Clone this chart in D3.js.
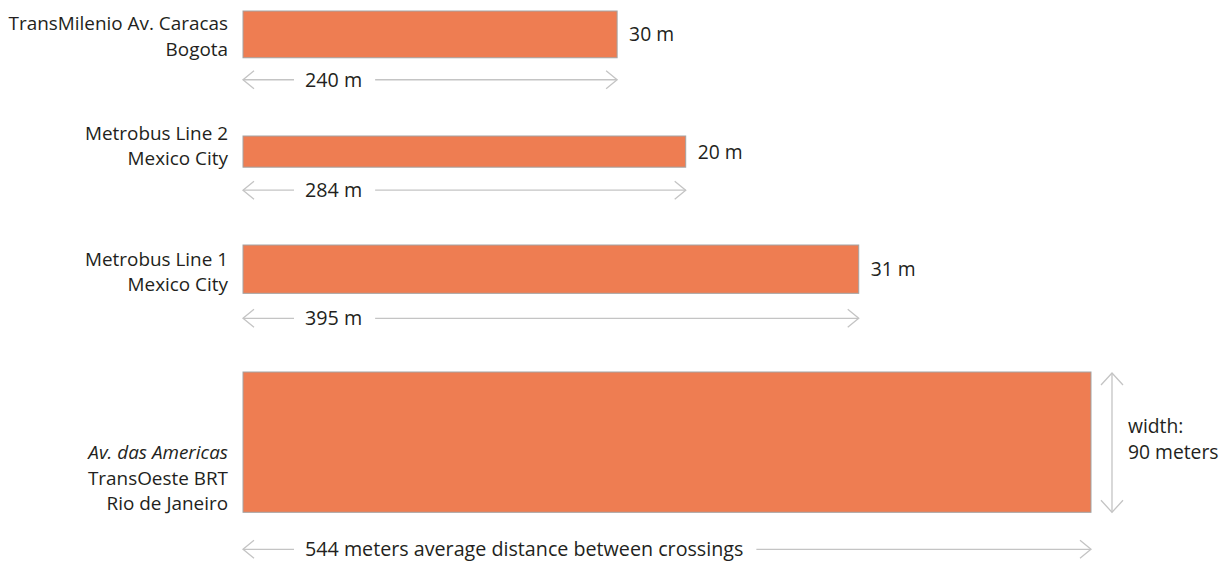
<!DOCTYPE html>
<html>
<head>
<meta charset="utf-8">
<script src="https://cdn.jsdelivr.net/npm/d3@7"></script>
<style>
  html, body { margin: 0; padding: 0; background: #fff; }
  svg { display: block; }
  text { font-family: "Open Sans", "Noto Sans", sans-serif; fill: #231f20; }
</style>
</head>
<body>
<svg id="chart" width="1227" height="565"></svg>
<script>
// ---- data ----
const corridorNames = [
  ["TransMilenio Av. Caracas", "Bogota"],
  ["Metrobus Line 2", "Mexico City"],
  ["Metrobus Line 1", "Mexico City"],
  ["Av. das Americas", "TransOeste BRT", "Rio de Janeiro"]
];
const italicFirstLine = [false, false, false, true];
const crossingDistance = [240, 284, 395, 544];   // meters
const roadWidth = [30, 20, 31, 90];              // meters
const distanceLabels = ["240 m", "284 m", "395 m", "544 meters average distance between crossings"];
const widthLabels = [["30 m"], ["20 m"], ["31 m"], ["width:", "90 meters"]];

// ---- layout ----
const W = 1227, H = 565;
const rowTop = [11, 136, 245, 372];
const arrowGap = [22, 23, 25, 37];
const barColor = "#EE7D52", barStroke = "#a3a3a3", arrowColor = "#c4c4c4";
const nameSize = 18.9, distSize = 19.7, widthSize = 19.3, lineH = 25.5;

const svg = d3.select("#chart");
// one meter scale used for both length and width (drawn to scale)
const x = d3.scaleLinear().domain([0, 544]).range([243, 1091]);
const len = v => x(v) - x(0);

const rows = crossingDistance.map((d, i) => ({
  i, d, w: roadWidth[i], names: corridorNames[i], italic: italicFirstLine[i],
  dLabel: distanceLabels[i], wLabel: widthLabels[i],
  top: rowTop[i], gap: arrowGap[i]
}));

const g = svg.selectAll("g.row").data(rows).join("g").attr("class", "row");

// bars
g.append("rect")
  .attr("x", x(0))
  .attr("y", r => r.top)
  .attr("width", r => len(r.d))
  .attr("height", r => len(r.w))
  .attr("fill", barColor)
  .attr("stroke", barStroke)
  .attr("stroke-width", 1);

// left labels (bottom aligned with bar)
g.each(function(r) {
  const sel = d3.select(this);
  const bottom = r.top + len(r.w);
  const n = r.names.length;
  r.names.forEach((t, k) => {
    sel.append("text")
      .attr("x", x(0) - 15)
      .attr("y", bottom - 2 - (n - 1 - k) * lineH)
      .attr("text-anchor", "end")
      .attr("font-size", nameSize)
      .attr("font-style", (k === 0 && r.italic) ? "italic" : "normal")
      .text(t);
  });
});

function chevronH(sel, tipX, y, dir) { // dir: -1 left, +1 right
  sel.append("path")
    .attr("d", `M${tipX - dir * 11},${y - 9}L${tipX},${y}L${tipX - dir * 11},${y + 9}`)
    .attr("fill", "none").attr("stroke", arrowColor).attr("stroke-width", 1.3);
}
function chevronV(sel, xx, tipY, dir) { // dir: -1 up, +1 down
  sel.append("path")
    .attr("d", `M${xx - 11},${tipY - dir * 12}L${xx},${tipY}L${xx + 11},${tipY - dir * 12}`)
    .attr("fill", "none").attr("stroke", arrowColor).attr("stroke-width", 1.3);
}

g.each(function(r) {
  const sel = d3.select(this);
  const right = x(r.d);
  const bottom = r.top + len(r.w);
  const mid = r.top + len(r.w) / 2;
  if (r.wLabel.length === 1) {
    sel.append("text")
      .attr("x", right + 12)
      .attr("y", mid + 7)
      .attr("font-size", widthSize)
      .text(r.wLabel[0]);
  } else {
    const ax = right + 21;
    sel.append("line")
      .attr("x1", ax).attr("x2", ax)
      .attr("y1", r.top + 1).attr("y2", bottom)
      .attr("stroke", arrowColor).attr("stroke-width", 1.3);
    chevronV(sel, ax, r.top + 1, -1);
    chevronV(sel, ax, bottom, 1);
    r.wLabel.forEach((t, k) => {
      sel.append("text")
        .attr("x", right + 37)
        .attr("y", mid - 9 + k * 26)
        .attr("font-size", widthSize)
        .text(t);
    });
  }

  // distance arrow
  const ay = bottom + r.gap;
  const tx = x(0) + 62;
  const txt = sel.append("text")
    .attr("x", tx)
    .attr("y", ay + 7)
    .attr("font-size", distSize)
    .text(r.dLabel);
  const tw = txt.node().getComputedTextLength();
  sel.append("line")
    .attr("x1", x(0)).attr("x2", tx - 11)
    .attr("y1", ay).attr("y2", ay)
    .attr("stroke", arrowColor).attr("stroke-width", 1.3);
  sel.append("line")
    .attr("x1", tx + tw + 13).attr("x2", right)
    .attr("y1", ay).attr("y2", ay)
    .attr("stroke", arrowColor).attr("stroke-width", 1.3);
  chevronH(sel, x(0), ay, -1);
  chevronH(sel, right, ay, 1);
});
</script>
</body>
</html>
